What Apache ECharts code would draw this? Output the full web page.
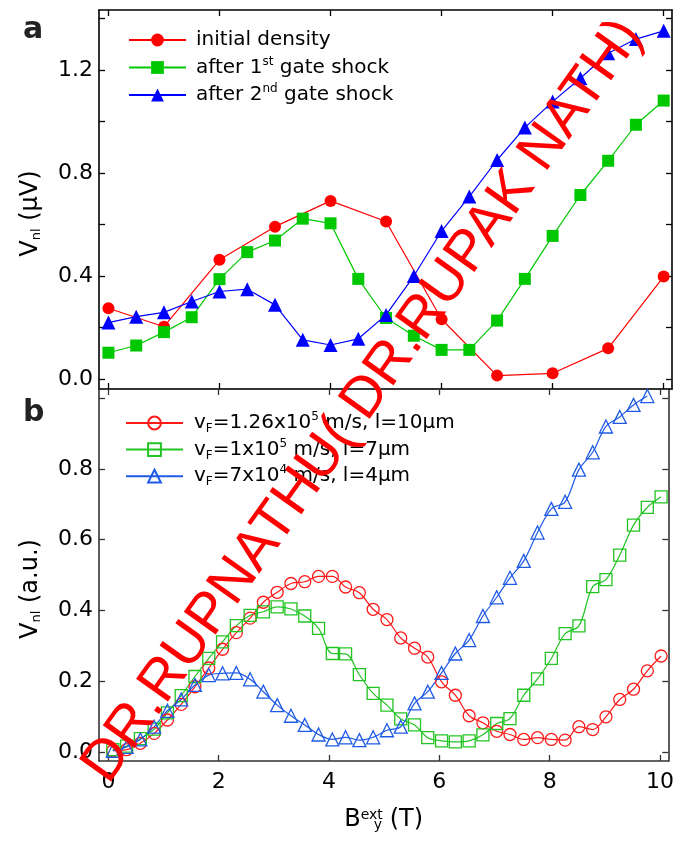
<!DOCTYPE html>
<html><head><meta charset="utf-8">
<script src="https://cdn.jsdelivr.net/npm/echarts@6/dist/echarts.min.js"></script>
<style>html,body{margin:0;padding:0;background:#fff}#c{width:677px;height:844px}</style>
</head><body><div id="c"></div>
<script>
// ---------- data: panel a ----------
const aRedX = [0,1,2,3,4,5,6,7,8,9,10];
const aRedY = [0.275,0.203,0.463,0.592,0.692,0.612,0.232,0.013,0.022,0.119,0.398];
const aHalfX = [0,0.5,1,1.5,2,2.5,3,3.5,4,4.5,5,5.5,6,6.5,7,7.5,8,8.5,9,9.5,10];
const aGreenY = [0.102,0.130,0.182,0.240,0.388,0.493,0.538,0.623,0.605,0.389,0.237,0.168,0.113,0.113,0.227,0.389,0.556,0.715,0.848,0.988,1.082];
const aBlueY = [0.219,0.242,0.259,0.301,0.340,0.349,0.288,0.152,0.132,0.156,0.249,0.400,0.575,0.709,0.851,0.977,1.078,1.169,1.266,1.321,1.353];
const aNames = ['initial density','after 1st gate shock','after 2nd gate shock'];

// ---------- data: panel b ----------
const bX = [0.08,0.33,0.58,0.83,1.07,1.32,1.57,1.82,2.07,2.32,2.57,2.81,3.06,3.31,3.56,3.81,4.06,4.30,4.55,4.80,5.05,5.30,5.55,5.79,6.04,6.29,6.54,6.79,7.04,7.28,7.53,7.78,8.03,8.28,8.53,8.78,9.02,9.27,9.52,9.77,10.02];
const bRedY = [0.003,0.006,0.024,0.052,0.090,0.134,0.184,0.237,0.290,0.337,0.378,0.423,0.451,0.476,0.481,0.496,0.496,0.466,0.450,0.403,0.374,0.322,0.293,0.268,0.198,0.160,0.102,0.082,0.058,0.049,0.035,0.040,0.035,0.033,0.071,0.063,0.099,0.148,0.177,0.229,0.271];
const bGreenY = [0.006,0.016,0.037,0.064,0.110,0.159,0.213,0.264,0.311,0.357,0.386,0.396,0.410,0.404,0.384,0.349,0.278,0.277,0.218,0.165,0.132,0.093,0.076,0.040,0.031,0.028,0.031,0.048,0.080,0.094,0.160,0.206,0.264,0.334,0.356,0.467,0.487,0.556,0.641,0.691,0.721];
const bBlueY = [0.003,0.014,0.035,0.071,0.116,0.148,0.189,0.217,0.222,0.223,0.205,0.170,0.132,0.102,0.076,0.049,0.035,0.041,0.033,0.041,0.061,0.071,0.137,0.170,0.223,0.278,0.316,0.384,0.437,0.492,0.540,0.620,0.687,0.707,0.798,0.847,0.920,0.947,0.981,1.006];
const bNames = ['vF=1.26x10^5 m/s, l=10um','vF=1x10^5 m/s, l=7um','vF=7x10^4 m/s, l=4um'];

// ---------- ticks ----------
const xTicks = [0,2,4,6,8,10];
const aYTicks = [0,0.2,0.4,0.6,0.8,1.0,1.2,1.4];
const aYLabels = [0,0.4,0.8,1.2];
const bYTicks = [0,0.2,0.4,0.6,0.8,1.0];
const bYLabels = [0,0.2,0.4,0.6,0.8];

const FF = "'DejaVu Sans', sans-serif";
const X_MIN = -0.17, X_MAX = 10.15;
const A_MIN = -0.039, A_MAX = 1.434;
const B_MIN = -0.026, B_MAX = 1.026;

function xAx(grid, pos, color, showLabel, name) {
  const o = {type:'value', gridIndex:grid, position:pos, min:X_MIN, max:X_MAX,
    axisLine:{show:true, onZero:false, lineStyle:{color:color, width:1.6}},
    axisTick:{show:true, inside:true, length:6, customValues:xTicks, lineStyle:{color:color, width:1.3}},
    axisLabel:{show:showLabel, customValues:xTicks, margin:10, fontSize:22, fontFamily:FF, color:'#000',
      formatter:v=>String(Math.round(v))},
    splitLine:{show:false}};
  if (name) Object.assign(o, name);
  return o;
}
function yAx(grid, pos, color, min, max, ticks, labels, showLabel, name) {
  const o = {type:'value', gridIndex:grid, position:pos, min:min, max:max,
    axisLine:{show:true, onZero:false, lineStyle:{color:color, width:1.6}},
    axisTick:{show:true, inside:true, length:6, customValues:ticks, lineStyle:{color:color, width:1.3}},
    axisLabel:{show:showLabel, customValues:labels, margin:6, fontSize:22, fontFamily:FF, color:'#000',
      formatter:v=>v.toFixed(1)},
    splitLine:{show:false}};
  if (name) Object.assign(o, name);
  return o;
}
const nameRich = {
  t:{fontSize:24, fontFamily:FF, color:'#000'},
  s:{fontSize:13, fontFamily:FF, color:'#000', verticalAlign:'bottom', lineHeight:8},
  p:{fontSize:14, fontFamily:FF, color:'#000', verticalAlign:'top', lineHeight:14},
  q:{fontSize:14, fontFamily:FF, color:'#000', verticalAlign:'bottom', lineHeight:6, padding:[0,0,0,-9]}
};

const legRich = {
  t:{fontSize:20, fontFamily:FF, color:'#000', lineHeight:24},
  sup:{fontSize:12, fontFamily:FF, color:'#000', verticalAlign:'top', lineHeight:12},
  sub:{fontSize:12, fontFamily:FF, color:'#000', verticalAlign:'bottom', lineHeight:4}
};
const legFmt = {
  'initial density':'{t|initial density}',
  'after 1st gate shock':'{t|after 1}{sup|st}{t| gate shock}',
  'after 2nd gate shock':'{t|after 2}{sup|nd}{t| gate shock}',
  'vF=1.26x10^5 m/s, l=10um':'{t|v}{sub|F}{t|=1.26x10}{sup|5}{t| m/s, l=10\u03bcm}',
  'vF=1x10^5 m/s, l=7um':'{t|v}{sub|F}{t|=1x10}{sup|5}{t| m/s, l=7\u03bcm}',
  'vF=7x10^4 m/s, l=4um':'{t|v}{sub|F}{t|=7x10}{sup|4}{t| m/s, l=4\u03bcm}'
};

const RED='#ff0000', GRN='#00c800', BLU='#0000ff';
const RED2='#ff1a1a', GRN2='#22c322', BLU2='#1e5ae6';

function pairs(xs, ys){ return ys.map((y,i)=>[xs[i], y]); }

function filled(name, xs, ys, color, sym, size){
  return {type:'line', name:name, xAxisIndex:0, yAxisIndex:0, data:pairs(xs,ys),
    symbol:sym, symbolSize:size, showSymbol:true, animation:false,
    lineStyle:{color:color, width:1.2}, itemStyle:{color:color, borderWidth:0}, z:3};
}
function hollow(name, ys, color, sym, size){
  return {type:'line', name:name, xAxisIndex:2, yAxisIndex:2, data:pairs(bX,ys),
    symbol:sym, symbolSize:size, showSymbol:true, smooth:0.35, animation:false,
    lineStyle:{color:color, width:1.2},
    itemStyle:{color:'rgba(255,255,255,0)', borderColor:color, borderWidth:1.3}, z:3};
}

const chart = echarts.init(document.getElementById('c'), null, {renderer:'canvas'});
chart.setOption({
  backgroundColor:'#fff',
  animation:false,
  grid:[
    {left:99, right:5, top:10, height:379},
    {left:99, right:5, top:389, height:372}
  ],
  xAxis:[
    xAx(0,'bottom','#000',false),
    xAx(0,'top','#000',false),
    xAx(1,'bottom','#333',true,{name:'{t|B}{p|ext}{q|y}{t| (T)}', nameLocation:'middle', nameGap:47,
      nameTextStyle:{rich:nameRich}}),
    xAx(1,'top','#333',false)
  ],
  yAxis:[
    yAx(0,'left','#000',A_MIN,A_MAX,aYTicks,aYLabels,true,{name:'{t|V}{s|nl}{t| (\u03bcV)}', nameLocation:'middle', nameRotate:90, nameGap:56,
      nameTextStyle:{rich:nameRich, padding:[0,28,0,0]}}),
    yAx(0,'right','#000',A_MIN,A_MAX,aYTicks,aYLabels,false),
    yAx(1,'left','#333',B_MIN,B_MAX,bYTicks,bYLabels,true,{name:'{t|V}{s|nl}{t| (a.u.)}', nameLocation:'middle', nameRotate:90, nameGap:56,
      nameTextStyle:{rich:nameRich, padding:[0,28,0,0]}}),
    yAx(1,'right','#333',B_MIN,B_MAX,bYTicks,bYLabels,false)
  ],
  legend:[
    {data:aNames, orient:'vertical', left:128, top:30, padding:0, itemWidth:57, itemHeight:16, itemGap:5.5,
      formatter:n=>legFmt[n], textStyle:{rich:legRich, padding:[0,0,0,5]}, selectedMode:false},
    {data:bNames, orient:'vertical', left:125, top:411, padding:0, itemWidth:57, itemHeight:16, itemGap:2.6,
      formatter:n=>legFmt[n], textStyle:{rich:legRich, padding:[0,0,0,6]}, selectedMode:false}
  ],
  series:[
    filled(aNames[0], aRedX, aRedY, RED, 'circle', 12),
    filled(aNames[1], aHalfX, aGreenY, GRN, 'rect', 12),
    filled(aNames[2], aHalfX, aBlueY, BLU, 'triangle', 14),
    hollow(bNames[0], bRedY, RED2, 'circle', 12),
    hollow(bNames[1], bGreenY, GRN2, 'rect', 12),
    hollow(bNames[2], bBlueY, BLU2, 'triangle', 13)
  ],
  graphic:[
    {type:'text', left:23, top:15, style:{text:'a', font:"bold 30px 'DejaVu Sans'", fill:'#222'}},
    {type:'text', left:23, top:398, style:{text:'b', font:"bold 30px 'DejaVu Sans'", fill:'#222'}},
    {type:'text', x:363, y:401, rotation:0.951, z:100,
      style:{text:'DR.RUPNATHU( DR.RUPAK NATH)', font:"57px 'Liberation Sans'", fill:'#ff0000',
        align:'center', verticalAlign:'middle'}}
  ]
});
</script>
</body></html>
